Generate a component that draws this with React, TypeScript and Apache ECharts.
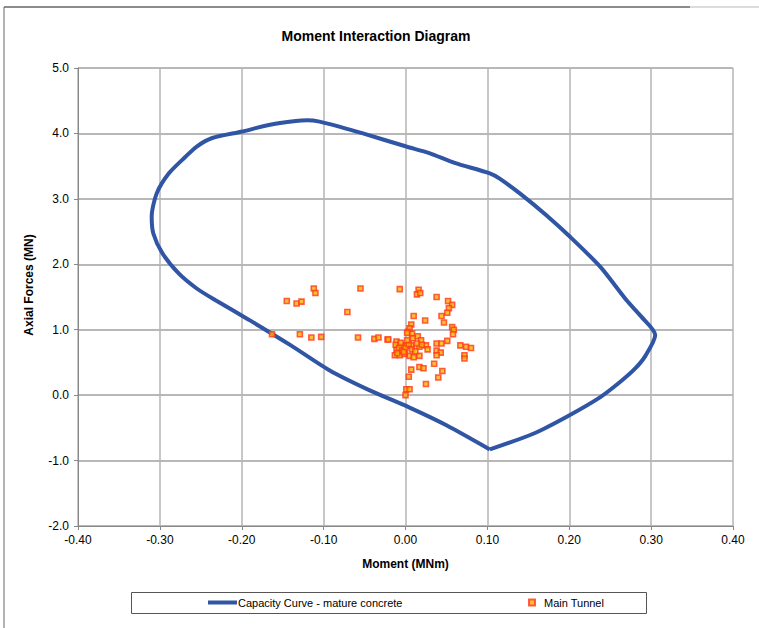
import React, { useEffect, useRef } from "react";
import * as echarts from "echarts";

const curveName = "Capacity Curve - mature concrete";
const scatterName = "Main Tunnel";

// Capacity curve (moment MNm, axial MN)
const capacityCurve: [number, number][] = [
  [0.103, -0.83], [0.156, -0.59], [0.197, -0.33], [0.238, -0.03], [0.262, 0.2],
  [0.28, 0.4], [0.293, 0.6], [0.305, 0.92], [0.288, 1.2], [0.27, 1.45],
  [0.238, 1.96], [0.201, 2.42], [0.172, 2.75], [0.14, 3.08], [0.115, 3.31],
  [0.103, 3.39], [0.06, 3.55], [0.029, 3.7], [0.001, 3.8], [-0.052, 4.0],
  [-0.08, 4.1], [-0.105, 4.18], [-0.12, 4.2], [-0.134, 4.19], [-0.167, 4.13],
  [-0.199, 4.03], [-0.236, 3.93], [-0.255, 3.8], [-0.269, 3.64], [-0.289, 3.39],
  [-0.304, 3.08], [-0.31, 2.73], [-0.308, 2.47], [-0.297, 2.17], [-0.277, 1.86],
  [-0.255, 1.63], [-0.232, 1.45], [-0.191, 1.15], [-0.14, 0.76], [-0.093, 0.38],
  [-0.045, 0.08], [0.005, -0.19], [0.05, -0.46], [0.103, -0.83],
];

// Main tunnel load cases
const mainTunnel: [number, number][] = [
  [-0.163, 0.93], [-0.129, 0.93], [-0.115, 0.88], [-0.103, 0.89], [-0.145, 1.44],
  [-0.133, 1.4], [-0.127, 1.43], [-0.112, 1.63], [-0.11, 1.56], [-0.071, 1.27],
  [-0.055, 1.63], [-0.058, 0.88], [-0.038, 0.86], [-0.033, 0.88], [-0.022, 0.85],
  [-0.007, 1.62],
  [0.016, 1.61], [0.014, 1.54], [0.018, 1.56], [0.038, 1.5], [0.052, 1.44],
  [0.057, 1.38], [0.053, 1.33], [0.051, 1.26], [0.044, 1.21], [0.01, 1.21],
  [0.024, 1.14], [0.047, 1.11], [0.007, 1.08], [0.057, 1.04], [0.059, 1.0],
  [0.005, 1.02], [0.003, 0.97], [0.058, 0.93], [0.008, 0.94],
  [-0.021, 0.85], [-0.011, 0.82], [0.002, 0.95], [0.009, 0.87], [0.015, 0.9],
  [0.019, 0.84], [0.025, 0.76], [0.038, 0.79], [0.044, 0.79], [0.051, 0.83],
  [0.067, 0.76], [0.074, 0.74], [0.08, 0.72], [0.072, 0.61], [0.072, 0.56],
  [0.038, 0.68], [0.043, 0.65], [0.038, 0.61], [0.027, 0.7], [0.017, 0.74],
  [0.007, 0.76], [0.001, 0.76], [-0.005, 0.74], [-0.011, 0.69], [-0.013, 0.61],
  [-0.007, 0.61], [-0.001, 0.63], [0.005, 0.6], [0.017, 0.6],
  [-0.012, 0.77], [-0.008, 0.72], [-0.004, 0.68], [0.0, 0.72], [0.004, 0.78],
  [0.008, 0.7], [0.012, 0.67], [-0.01, 0.64], [-0.002, 0.66], [0.01, 0.58],
  [0.014, 0.79], [0.02, 0.77], [0.002, 0.84], [-0.006, 0.8],
  [0.035, 0.48], [0.017, 0.43], [0.022, 0.41], [0.007, 0.39], [0.045, 0.37],
  [0.04, 0.27], [0.004, 0.28], [0.025, 0.17], [0.001, 0.09], [0.005, 0.09],
  [0.0, 0.0],
];

const xMin = -0.4;
const xMax = 0.4;
const xStep = 0.1;
const yMin = -2;
const yMax = 5;
const yStep = 1;

const FONT = "Liberation Sans, Arial, sans-serif";

export default function App() {
  const ref = useRef<HTMLDivElement>(null);
  useEffect(() => {
    if (!ref.current) return;
    const chart = echarts.init(ref.current, undefined, { renderer: "svg" });
    chart.setOption({
      animation: false,
      backgroundColor: "#fff",
      textStyle: { fontFamily: FONT },
      title: {
        text: "Moment Interaction Diagram",
        left: 371,
        textAlign: "center",
        top: 24,
        textStyle: { fontFamily: FONT, fontSize: 14, fontWeight: "bold", color: "#000" },
      },
      grid: { left: 78, right: 26, top: 68, bottom: 102, containLabel: false },
      xAxis: {
        type: "value",
        min: xMin,
        max: xMax,
        interval: xStep,
        name: "Moment (MNm)",
        nameLocation: "middle",
        nameGap: 32,
        nameTextStyle: { fontFamily: FONT, fontSize: 12, fontWeight: "bold", color: "#000" },
        axisLine: { show: true, onZero: false, lineStyle: { color: "#888", width: 1 } },
        axisTick: { show: true, length: 4, lineStyle: { color: "#888" } },
        axisLabel: {
          fontFamily: FONT,
          fontSize: 12,
          color: "#000",
          margin: 8,
          formatter: (v: number) => v.toFixed(2),
        },
        splitLine: { show: true, lineStyle: { color: "#b4b4b4", width: 1.5 } },
      },
      yAxis: {
        type: "value",
        min: yMin,
        max: yMax,
        interval: yStep,
        axisLine: { show: true, onZero: false, lineStyle: { color: "#888", width: 1 } },
        axisTick: { show: true, length: 4, lineStyle: { color: "#888" } },
        axisLabel: {
          fontFamily: FONT,
          fontSize: 12,
          color: "#000",
          margin: 9,
          formatter: (v: number) => v.toFixed(1),
        },
        splitLine: { show: true, lineStyle: { color: "#a0a0a0", width: 1.5 } },
      },
      legend: [
        {
          data: [{ name: curveName, icon: "rect" }],
          left: 208,
          top: 597,
          itemWidth: 29,
          itemHeight: 4,
          itemGap: 0,
          padding: 0,
          textStyle: { fontFamily: FONT, fontSize: 11, color: "#000", padding: [0, 0, 0, -4] },
        },
        {
          data: [{ name: scatterName, icon: "rect" }],
          left: 528,
          top: 597,
          itemWidth: 6,
          itemHeight: 6,
          padding: 0,
          textStyle: { fontFamily: FONT, fontSize: 11, color: "#000", padding: [0, 0, 0, 4] },
        },
      ],
      graphic: [
        {
          type: "text",
          x: 29,
          y: 285,
          rotation: Math.PI / 2,
          style: {
            text: "Axial Forces (MN)",
            font: "bold 12px Liberation Sans, Arial, sans-serif",
            fill: "#000",
            align: "center",
            verticalAlign: "middle",
          },
          silent: true,
        },
        {
          type: "line",
          shape: { x1: 4, y1: 7, x2: 690, y2: 7 },
          style: { stroke: "#666", lineWidth: 1.5 },
          silent: true,
        },
        {
          type: "line",
          shape: { x1: 690, y1: 7, x2: 759, y2: 7 },
          style: { stroke: "#d0d0d0", lineWidth: 1.5 },
          silent: true,
        },
        {
          type: "line",
          shape: { x1: 4, y1: 7, x2: 4, y2: 628 },
          style: { stroke: "#666", lineWidth: 1 },
          silent: true,
        },
        {
          type: "rect",
          shape: { x: 131.5, y: 592.5, width: 515, height: 21 },
          style: { fill: "none", stroke: "#555", lineWidth: 1 },
          silent: true,
          z: -1,
        },
      ],
      series: [
        {
          name: curveName,
          type: "line",
          data: capacityCurve,
          showSymbol: false,
          symbol: "none",
          smooth: 0.25,
          lineStyle: { color: "#2F55A4", width: 4 },
          itemStyle: { color: "#2F55A4" },
          z: 2,
        },
        {
          name: scatterName,
          type: "scatter",
          data: mainTunnel,
          symbol: "rect",
          symbolSize: 5,
          itemStyle: { color: "#FFB000", borderColor: "#FF3A1A", borderWidth: 1.6 },
          z: 3,
        },
      ],
    });
    return () => chart.dispose();
  }, []);
  return (
    <div
      ref={ref}
      style={{ position: "fixed", left: 0, top: 0, width: 759, height: 628 }}
    />
  );
}
